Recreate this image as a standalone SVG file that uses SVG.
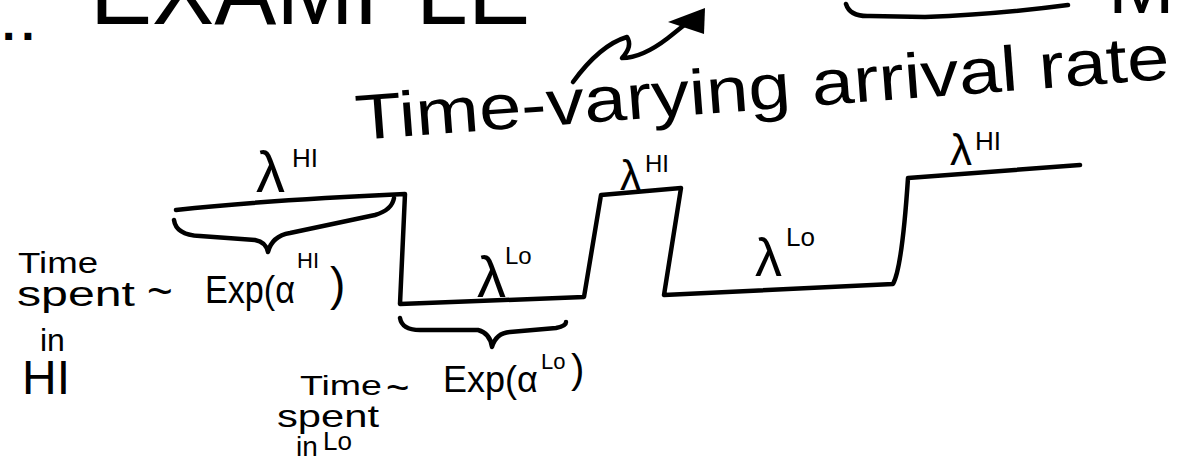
<svg xmlns="http://www.w3.org/2000/svg" width="1179" height="458" viewBox="0 0 1179 458">
<style>
.ln{fill:none;stroke:#000;stroke-width:4.5;stroke-linecap:round;stroke-linejoin:round}
.t{font-family:"Liberation Sans","DejaVu Sans",sans-serif;fill:#000}
</style>
<rect width="1179" height="458" fill="#fff"/>

<g id="heading">
<text class="t" x="2" y="40" font-size="48" font-weight="bold" letter-spacing="6">..</text>
<text class="t" x="90" y="24" font-size="96" textLength="440" lengthAdjust="spacingAndGlyphs">EXAMPLE</text>
<path class="ln" d="M846,4 Q850,17 870,16 L925,17 Q1000,14 1068,5"/>
<text class="t" x="1108" y="13" font-size="80">M</text>
</g>

<g id="title">
<text class="t" x="357" y="140" font-size="64" textLength="816" lengthAdjust="spacingAndGlyphs" transform="rotate(-4.3 357 140)">Time-varying arrival rate</text>
</g>

<g id="connectors">
<path class="ln" d="M573,82 Q600,45 627,37 Q633,46 622,58 Q642,58 668,38 L688,22"/>
<polygon points="705,8 668,22 704,34" fill="#000"/>
</g>

<g id="step-function">
<path class="ln" d="M176,210 Q268,200 405,194 L400,304 L584,297 L601,195 L681,188 L664,295 L893,284 Q902,268 908,178 L1080,165"/>
</g>

<g id="brace-hi">
<path class="ln" d="M174,220 Q176,235 200,236 L255,240 Q266,242 268,252 Q272,236 290,233 L375,215 Q392,210 394,198"/>
</g>
<g id="brace-lo">
<path class="ln" d="M400,318 Q402,330 420,330 L478,330 Q490,333 492,347 Q496,333 510,332 L556,328 Q566,326 566,322"/>
</g>

<g id="lambda-hi-1">
<text class="t" x="256" y="192" font-size="58">λ</text>
<text class="t" x="292" y="167" font-size="26">HI</text>
</g>
<g id="lambda-lo-1">
<text class="t" x="477" y="297" font-size="58">λ</text>
<text class="t" x="505" y="264" font-size="24">Lo</text>
</g>
<g id="lambda-hi-2">
<text class="t" x="620" y="190" font-size="42">λ</text>
<text class="t" x="645" y="172" font-size="24">HI</text>
</g>
<g id="lambda-lo-2">
<text class="t" x="755" y="276" font-size="54">λ</text>
<text class="t" x="786" y="246" font-size="26">Lo</text>
</g>
<g id="lambda-hi-3">
<text class="t" x="950" y="165" font-size="44">λ</text>
<text class="t" x="975" y="150" font-size="26">HI</text>
</g>

<g id="label-hi">
<text class="t" x="18" y="273" font-size="29" textLength="80" lengthAdjust="spacingAndGlyphs">Time</text>
<text class="t" x="17" y="306" font-size="35" textLength="118" lengthAdjust="spacingAndGlyphs">spent</text>
<text class="t" x="147" y="306" font-size="44">~</text>
<text class="t" x="205" y="303" font-size="38" textLength="90" lengthAdjust="spacingAndGlyphs">Exp(α</text>
<text class="t" x="297" y="268" font-size="22">HI</text>
<text class="t" x="330" y="300" font-size="46">)</text>
<text class="t" x="40" y="351" font-size="32">in</text>
<text class="t" x="22" y="394" font-size="48">HI</text>
</g>

<g id="label-lo">
<text class="t" x="300" y="395" font-size="28" textLength="82" lengthAdjust="spacingAndGlyphs">Time</text>
<text class="t" x="386" y="401" font-size="40">~</text>
<text class="t" x="443" y="392" font-size="36">Exp(α</text>
<text class="t" x="541" y="369" font-size="22">Lo</text>
<text class="t" x="571" y="383" font-size="40">)</text>
<text class="t" x="277" y="427" font-size="32" textLength="102" lengthAdjust="spacingAndGlyphs">spent</text>
<text class="t" x="296" y="456" font-size="28">in</text>
<text class="t" x="323" y="450" font-size="26">Lo</text>
</g>
</svg>
